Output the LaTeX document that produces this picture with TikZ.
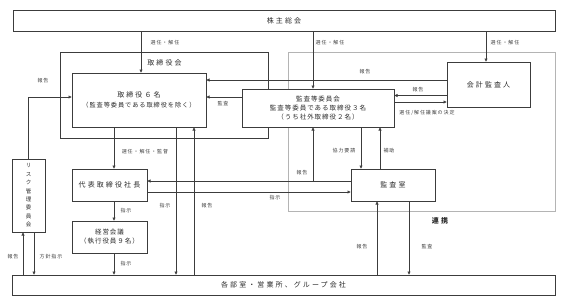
\documentclass[tikz,border=0pt]{standalone}
\usepackage{fontspec}
\setmainfont{Noto Sans CJK JP}
\newfontfamily\jpA[LetterSpace=30]{Noto Sans CJK JP}
\newfontfamily\jpB[LetterSpace=15]{Noto Sans CJK JP}
\newfontfamily\jpC[LetterSpace=18]{Noto Sans CJK JP}
\usetikzlibrary{arrows.meta,calc}
\definecolor{linec}{HTML}{3C3C3C}
\definecolor{grayc}{HTML}{B4B4B4}
\definecolor{txtc}{HTML}{2A2A2A}
\begin{document}
\begin{tikzpicture}[x=1pt,y=-1pt,
  bx/.style={draw=linec, line width=0.6pt, fill=white, inner sep=0pt, text=txtc, align=center},
  big/.style={font={\jpA\fontsize{7}{9}\selectfont}},
  mid/.style={font={\jpB\fontsize{6.5}{9}\selectfont}},
  lbl/.style={font={\jpC\fontsize{5}{6}\selectfont}, text=black!75, inner sep=0pt},
  arr/.style={draw=linec, line width=0.6pt, -{Triangle[length=3.2pt,width=3pt]}},
  ln/.style={draw=linec, line width=0.6pt}]
\useasboundingbox (0,0) rectangle (567,306);
% helper coordinates
\foreach \v in {23,34,114,141,176,194,313,361,377,380,409,486}{\coordinate (X\v) at (\v,0);}
\foreach \v in {80,97,102,181,192}{\coordinate (Y\v) at (0,\v);}
\coordinate (Y95) at (0,95.5);
% frames
\node[draw=linec, line width=0.6pt, minimum width=208pt, minimum height=86pt, inner sep=0pt] (torikai) at (164,95) {};
\node[big, text=txtc] (torikaiT) at (164.5,63) {取締役会};
\node[draw=grayc, line width=0.6pt, minimum width=267pt, minimum height=159pt, inner sep=0pt] (renkeiF) at (421.5,131.5) {};
\node[font={\jpA\fontsize{7}{9}\selectfont\bfseries}, text=txtc] (renkei) at (440,221) {連携};
% boxes
\node[bx, big, minimum width=542pt, minimum height=21pt] (soukai) at (284,20.5) {株主総会};
\node[bx, big, minimum width=134pt, minimum height=54pt] (tori6) at (139,100) {取締役６名\\[0.5pt]{\jpB\fontsize{6.2}{8}\selectfont （監査等委員である取締役を除く）}};
\node[bx, mid, minimum width=152pt, minimum height=38pt] (kansa) at (318,108) {監査等委員会\\監査等委員である取締役３名\\（うち社外取締役２名）};
\node[bx, big, minimum width=83pt, minimum height=45pt] (kaikei) at (488.5,84.5) {会計監査人};
\node[bx, big, minimum width=84pt, minimum height=32pt] (kansashitsu) at (393,185) {監査室};
\node[bx, big, minimum width=75pt, minimum height=32pt] (daihyo) at (109.5,185) {代表取締役社長};
\node[bx, mid, minimum width=75pt, minimum height=32pt] (keiei) at (109.5,237) {経営会議\\（執行役員９名）};
\node[bx, font={\fontsize{5.5}{8.4}\selectfont}, minimum width=33pt, minimum height=73pt] (risk) at (28.5,195.5) {リ\\ス\\ク\\管\\理\\委\\員\\会};
\node[bx, big, minimum width=543pt, minimum height=20pt] (bumon) at (283.5,285) {各部室・営業所、グループ会社};
% connectors
\draw[arr] (soukai.south -| X141) -- (tori6.north -| X141);
\draw[arr] (soukai.south -| X313) -- (kansa.north -| X313);
\draw[arr] (soukai.south -| X486) -- (kaikei.north -| X486);
\draw[arr] (kaikei.west |- Y80) -- (tori6.east |- Y80);
\draw[arr] (kaikei.west |- Y95) -- (kansa.east |- Y95);
\draw[arr] (kansa.east |- Y102) -- (kaikei.west |- Y102);
\draw[arr] (kansa.west |- Y97) -- (tori6.east |- Y97);
\draw[arr] (risk.north) |- (tori6.west |- Y97);
\draw[arr] (tori6.south -| X114) -- (daihyo.north -| X114);
\draw[arr] (tori6.south -| X176) -- (bumon.north -| X176);
\draw[arr] (bumon.north -| X194) -- (tori6.south -| X194);
\draw[arr] (kansashitsu.west |- Y181) -- (daihyo.east |- Y181);
\coordinate (J) at (313,181);
\draw[arr] (J) -- (kansa.south -| X313);
\draw[arr] (daihyo.east |- Y192) -- (kansashitsu.west |- Y192);
\draw[arr] (kansa.south -| X361) -- (kansashitsu.north -| X361);
\draw[arr] (kansashitsu.north -| X380) -- (kansa.south -| X380);
\draw[arr] (kansashitsu.south -| X409) -- (bumon.north -| X409);
\draw[arr] (bumon.north -| X377) -- (kansashitsu.south -| X377);
\draw[arr] (daihyo.south -| X114) -- (keiei.north -| X114);
\draw[arr] (keiei.south -| X114) -- (bumon.north -| X114);
\draw[arr] (bumon.north -| X23) -- (risk.south -| X23);
\draw[arr] (risk.south -| X34) -- (bumon.north -| X34);
% labels
\node[lbl] (l1) at (165,43) {選任・解任};
\node[lbl] (l2) at (330,43) {選任・解任};
\node[lbl] (l3) at (505,43) {選任・解任};
\node[lbl] (l4) at (365,72) {報告};
\node[lbl] (l5) at (418,90) {報告};
\node[lbl] (l6) at (427,113) {選任/解任議案の決定};
\node[lbl] (l7) at (223,104) {監査};
\node[lbl] (l8) at (43,81) {報告};
\node[lbl] (l9) at (145,152) {選任・解任・監督};
\node[lbl] (l10) at (165,206) {指示};
\node[lbl] (l11) at (207,206) {報告};
\node[lbl] (l12) at (302,173) {報告};
\node[lbl] (l13) at (275,198) {指示};
\node[lbl] (l14) at (344,151) {協力要請};
\node[lbl] (l15) at (389,151) {補助};
\node[lbl] (l16) at (362,247) {報告};
\node[lbl] (l17) at (427,247) {監査};
\node[lbl] (l18) at (126,211) {指示};
\node[lbl] (l19) at (126,264) {指示};
\node[lbl] (l20) at (13,257) {報告};
\node[lbl] (l21) at (51,257) {方針指示};
\end{tikzpicture}
\end{document}
